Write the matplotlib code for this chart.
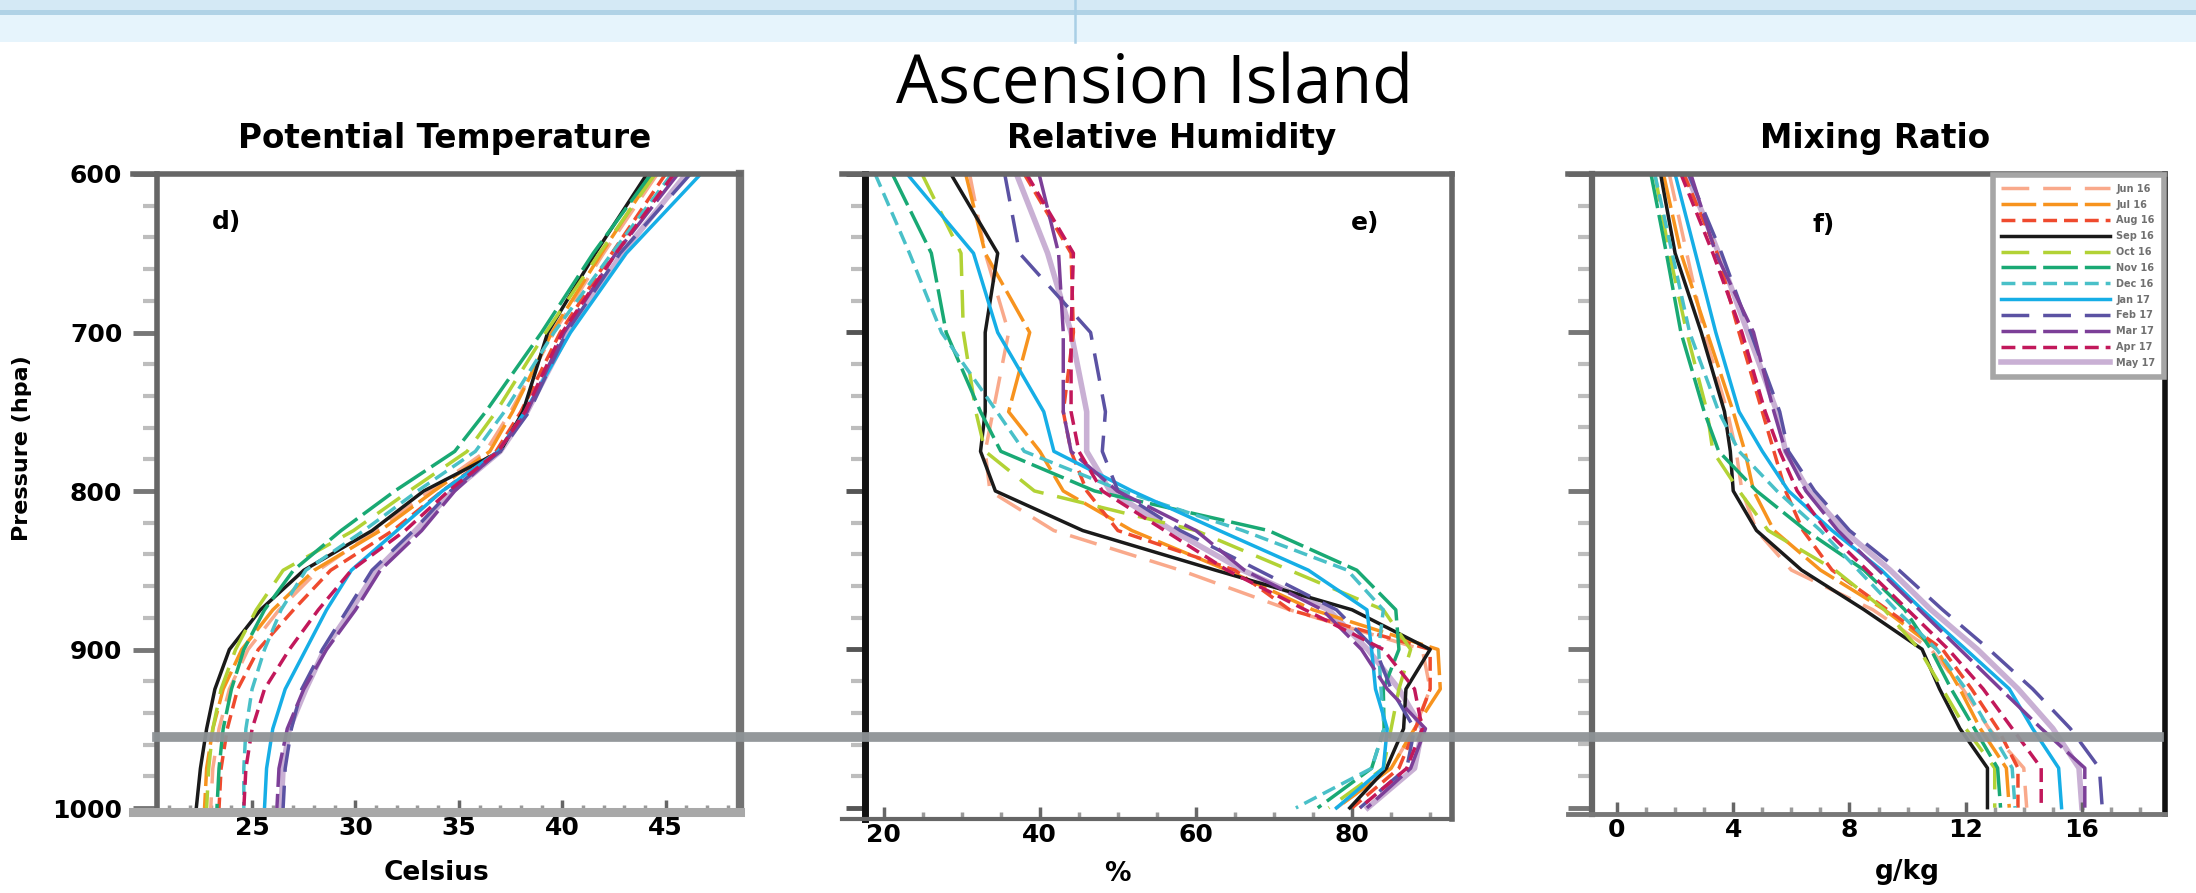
import matplotlib
matplotlib.use("Agg")
import matplotlib.pyplot as plt
from matplotlib.lines import Line2D
from matplotlib.patches import Rectangle
from matplotlib.transforms import blended_transform_factory
from matplotlib.ticker import MultipleLocator

# ---- dane ----
PRESSURE = [600, 650, 700, 750, 775, 800, 825, 850, 875, 900, 925, 950, 975, 1000]
SERIES = ["Jun 16", "Jul 16", "Aug 16", "Sep 16", "Oct 16", "Nov 16",
          "Dec 16", "Jan 17", "Feb 17", "Mar 17", "Apr 17", "May 17"]

# potencjalna temperatura [C]
THETA = [
    [44.6, 42.0, 39.6, 37.5, 36.3, 33.6, 31.0, 28.2, 26.3, 24.8, 23.9, 23.4, 23.1, 23.0],
    [44.4, 41.9, 39.5, 37.6, 36.5, 33.8, 31.2, 28.0, 26.0, 24.5, 23.6, 23.1, 22.8, 22.7],
    [45.0, 42.4, 39.9, 38.0, 36.8, 34.2, 31.8, 28.8, 27.0, 25.3, 24.3, 23.8, 23.5, 23.4],
    [44.1, 41.6, 39.3, 38.1, 37.0, 33.3, 30.8, 27.5, 25.4, 23.9, 23.2, 22.8, 22.5, 22.3],
    [44.5, 41.8, 39.2, 36.8, 35.4, 32.6, 29.9, 26.5, 25.2, 24.2, 23.5, 23.1, 22.9, 22.8],
    [44.3, 41.5, 39.0, 36.3, 34.8, 31.9, 29.3, 27.0, 25.6, 24.6, 24.0, 23.6, 23.4, 23.3],
    [45.3, 42.4, 39.6, 37.2, 35.8, 33.0, 30.4, 27.6, 26.4, 25.6, 25.0, 24.7, 24.6, 24.6],
    [46.7, 43.1, 40.4, 38.2, 36.9, 34.2, 32.0, 29.8, 28.6, 27.6, 26.6, 26.0, 25.7, 25.6],
    [46.2, 42.8, 40.2, 38.4, 37.0, 34.6, 32.8, 30.8, 29.6, 28.4, 27.4, 26.9, 26.6, 26.5],
    [45.6, 42.6, 40.1, 38.3, 36.9, 34.8, 33.2, 31.2, 30.0, 28.6, 27.5, 26.7, 26.3, 26.2],
    [45.4, 42.6, 40.0, 38.2, 36.9, 34.5, 32.4, 29.8, 28.2, 26.8, 25.6, 25.0, 24.7, 24.6],
    [46.0, 42.9, 40.3, 38.3, 37.0, 34.7, 32.9, 31.0, 29.8, 28.5, 27.6, 26.8, 26.5, 26.4],
]

# wilgotnosc wzgledna [%]
RH = [
    [31.0, 33.0, 36.0, 34.0, 33.0, 33.6, 41.8, 58.0, 72.0, 89.0, 90.0, 88.0, 85.0, 78.0],
    [30.5, 33.0, 38.7, 36.0, 40.0, 43.0, 51.8, 64.0, 75.0, 91.0, 91.3, 88.0, 85.0, 78.0],
    [38.0, 44.0, 44.3, 43.0, 44.0, 46.0, 50.0, 65.0, 72.0, 90.0, 90.0, 88.1, 86.0, 80.0],
    [28.6, 34.6, 33.0, 33.0, 32.4, 34.3, 45.5, 62.5, 80.0, 90.0, 86.9, 86.6, 84.4, 79.7],
    [24.9, 29.9, 30.2, 31.8, 33.0, 39.3, 60.0, 72.0, 84.0, 87.5, 86.0, 85.0, 84.0, 77.0],
    [21.1, 26.1, 28.0, 32.4, 35.0, 47.0, 69.3, 80.6, 85.6, 86.0, 84.0, 84.1, 82.5, 75.6],
    [18.9, 23.3, 27.4, 34.5, 38.0, 50.6, 66.0, 79.4, 84.0, 83.4, 83.7, 84.1, 82.5, 72.8],
    [23.0, 31.5, 34.6, 40.5, 41.8, 51.8, 63.0, 74.4, 81.9, 82.5, 83.0, 84.5, 84.0, 78.0],
    [35.5, 37.4, 46.5, 48.4, 48.0, 50.0, 58.0, 68.0, 78.0, 83.0, 85.0, 88.0, 87.0, 81.0],
    [39.9, 42.4, 43.0, 43.0, 44.0, 49.9, 60.0, 66.2, 76.2, 81.2, 84.5, 89.4, 87.5, 81.9],
    [38.3, 44.3, 44.0, 44.0, 45.0, 48.0, 56.0, 64.0, 74.0, 84.0, 88.0, 89.0, 87.0, 81.0],
    [37.0, 41.0, 44.0, 46.0, 46.0, 49.0, 57.0, 66.0, 77.0, 82.0, 86.0, 89.0, 88.0, 82.0],
]

# stosunek zmieszania [g/kg]
MIXR = [
    [1.8, 2.4, 3.0, 3.8, 4.1, 4.3, 4.8, 6.0, 8.8, 10.8, 11.9, 12.8, 14.0, 14.1],
    [1.6, 2.2, 3.1, 4.0, 4.4, 4.7, 5.4, 7.0, 9.2, 11.0, 11.8, 12.5, 13.4, 13.5],
    [2.3, 3.45, 4.2, 5.0, 5.4, 5.8, 6.4, 7.4, 9.3, 11.2, 12.2, 13.1, 13.8, 13.8],
    [1.5, 2.0, 2.9, 3.7, 3.9, 4.0, 4.8, 6.35, 8.5, 10.5, 11.1, 11.8, 12.75, 12.75],
    [1.3, 1.8, 2.4, 3.1, 3.3, 4.2, 5.2, 7.5, 9.2, 10.4, 11.2, 12.0, 13.0, 13.0],
    [1.17, 1.7, 2.2, 3.0, 3.5, 4.8, 6.5, 8.5, 9.9, 10.8, 11.5, 12.3, 13.1, 13.2],
    [1.3, 1.9, 2.5, 3.5, 4.2, 5.5, 7.0, 8.3, 9.6, 11.0, 12.0, 12.8, 13.6, 13.7],
    [2.0, 2.7, 3.4, 4.2, 5.0, 5.9, 7.4, 9.1, 10.5, 12.0, 13.5, 14.3, 15.2, 15.3],
    [2.46, 3.6, 4.6, 5.6, 5.9, 6.8, 8.0, 9.7, 11.2, 12.8, 14.3, 15.6, 16.6, 16.7],
    [2.54, 3.4, 4.7, 5.4, 5.8, 6.5, 7.6, 9.0, 10.4, 11.8, 13.2, 14.6, 16.1, 16.1],
    [2.2, 3.3, 4.3, 5.1, 5.6, 6.2, 7.2, 8.6, 10.0, 11.4, 12.6, 13.6, 14.6, 14.6],
    [2.4, 3.5, 4.5, 5.5, 5.8, 6.6, 7.8, 9.4, 10.8, 12.4, 13.8, 15.0, 15.9, 16.0],
]

INVERSION_P = 955  # szara pozioma linia

# ---- styl ----
COLORS = ["#f9a98b", "#f7931e", "#ef4a2e", "#1a1a1a",
          "#b2d235", "#19a974", "#49c0c8", "#16aee6",
          "#5b52a3", "#7c3f98", "#c2185b", "#c9b0d4"]
DASHES = [(8, 4), (10, 2), (4, 2), None] * 3
WIDTHS = [2.5] * 11 + [4.0]
ZORDERS = [2] * 11 + [1.5]

W, H = 2196, 893


def rect(l, r, t, b):
    return [l / W, 1 - b / H, (r - l) / W, (b - t) / H]


def style_axes(ax, spines, xmajor, xminor, ext):
    for name, (col, lw) in spines.items():
        ax.spines[name].set_color(col)
        ax.spines[name].set_linewidth(lw)
    x0, x1 = ax.get_xlim()
    ax.spines["top"].set_bounds(x0 - ext, x1)
    ax.spines["bottom"].set_bounds(x0 - ext, x1)
    ax.xaxis.set_major_locator(MultipleLocator(xmajor))
    ax.xaxis.set_minor_locator(MultipleLocator(xminor))
    ax.yaxis.set_major_locator(MultipleLocator(100))
    ax.yaxis.set_minor_locator(MultipleLocator(20))
    ax.tick_params(axis="x", which="major", direction="in", length=9, width=2.5,
                   color="#666666", pad=3, labelsize=18)
    ax.tick_params(axis="x", which="minor", direction="in", length=5, width=2.5,
                   color="#9a9a9a")
    ax.tick_params(axis="y", which="major", direction="out", length=17, width=3.5,
                   color="#777777", pad=8, labelsize=18)
    ax.tick_params(axis="y", which="minor", direction="out", length=10, width=3,
                   color="#bdbdbd")
    for lab in ax.get_xticklabels() + ax.get_yticklabels():
        lab.set_fontweight("bold")


def draw_panel(ax, data):
    lines = []
    for vals, col, dsh, lw, zo, lab in zip(data, COLORS, DASHES, WIDTHS, ZORDERS, SERIES):
        ln, = ax.plot(vals, PRESSURE, color=col, lw=lw, zorder=zo, label=lab)
        if dsh is not None:
            ln.set_dashes(dsh)
        lines.append(ln)
    return lines


fig = plt.figure(figsize=(W / 100, H / 100), dpi=100)

# pasek u gory (zrzut ekranu)
fig.add_artist(Rectangle((0, 1 - 42 / H), 1, 42 / H, transform=fig.transFigure,
                         facecolor="#e6f4fc", edgecolor="none"))
fig.add_artist(Rectangle((0, 1 - 10 / H), 1, 10 / H, transform=fig.transFigure,
                         facecolor="#d4e9f5", edgecolor="none"))
fig.add_artist(Rectangle((0, 1 - 15 / H), 1, 5 / H, transform=fig.transFigure,
                         facecolor="#b0d2e6", edgecolor="none"))
fig.add_artist(Line2D([1075 / W, 1075 / W], [1 - 42 / H, 1], transform=fig.transFigure,
                      color="#a9cfe6", lw=1.8))

ax1 = fig.add_axes(rect(157, 740, 174, 812))
ax2 = fig.add_axes(rect(865, 1452, 174, 819))
ax3 = fig.add_axes(rect(1592, 2165, 174, 814))

draw_panel(ax1, THETA)
draw_panel(ax2, RH)
leg_lines = draw_panel(ax3, MIXR)

ax1.set_xlim(20.4, 48.6)
ax1.set_ylim(1002.5, 600)
ax2.set_xlim(17.6, 92.8)
ax2.set_ylim(1007, 600)
ax3.set_xlim(-0.86, 18.86)
ax3.set_ylim(1004, 600)

style_axes(ax1, {"left": ("#666666", 4), "top": ("#666666", 4),
                 "right": ("#737373", 6), "bottom": ("#a8a8a8", 6.5)}, 5, 1, 1.16)
style_axes(ax2, {"left": ("#111111", 5), "top": ("#666666", 4),
                 "right": ("#666666", 4), "bottom": ("#666666", 3)}, 20, 5, 3.0)
style_axes(ax3, {"left": ("#666666", 4.5), "top": ("#666666", 4),
                 "right": ("#111111", 4), "bottom": ("#777777", 3.5)}, 4, 1, 0.83)

ax2.tick_params(axis="y", labelleft=False)
ax3.tick_params(axis="y", labelleft=False)
ax2.tick_params(axis="y", which="major", color="#555555", length=14)

ax1.set_ylabel("Pressure (hpa)", fontsize=16, fontweight="bold")
ax1.yaxis.set_label_coords(-0.215, 0.57)

ax1.set_xlabel("Celsius", fontsize=19, fontweight="bold")
ax1.xaxis.set_label_coords(0.48, -0.075)
ax2.set_xlabel("%", fontsize=19, fontweight="bold")
ax2.xaxis.set_label_coords(0.43, -0.065)
ax3.set_xlabel("g/kg", fontsize=19, fontweight="bold")
ax3.xaxis.set_label_coords(0.55, -0.07)

ax1.set_title("Potential Temperature", fontsize=23.5, fontweight="bold", x=0.494, pad=19)
ax2.set_title("Relative Humidity", fontsize=23.5, fontweight="bold", x=0.523, pad=19)
ax3.set_title("Mixing Ratio", fontsize=23.5, fontweight="bold", x=0.494, pad=19)

ax1.text(0.12, 0.925, "d)", transform=ax1.transAxes, fontsize=18, fontweight="bold",
         ha="center", va="center")
ax2.text(0.852, 0.924, "e)", transform=ax2.transAxes, fontsize=18, fontweight="bold",
         ha="center", va="center")
ax3.text(0.405, 0.92, "f)", transform=ax3.transAxes, fontsize=18, fontweight="bold",
         ha="center", va="center")

fig.text(1155 / W, 1 - 103 / H, "Ascension Island", fontsize=48, family="Open Sans",
         ha="center", va="baseline")

# szara linia przez wszystkie panele
p1 = ax1.get_position()
trans = blended_transform_factory(fig.transFigure, ax1.transData)
fig.add_artist(Line2D([p1.x0, 2159 / W], [INVERSION_P, INVERSION_P], transform=trans,
                      color="#8e9396", lw=7, alpha=0.95, zorder=5))

leg = ax3.legend(handles=leg_lines, loc="upper right", handlelength=11.2,
                 handletextpad=0.6, labelspacing=0.6, borderpad=0.9,
                 borderaxespad=0.1, fancybox=False, framealpha=1,
                 edgecolor="#a6a6a6", labelcolor="#707070",
                 prop={"size": 7, "weight": "bold"})
leg.get_frame().set_linewidth(4)

fig.savefig("out.png", dpi=100)
